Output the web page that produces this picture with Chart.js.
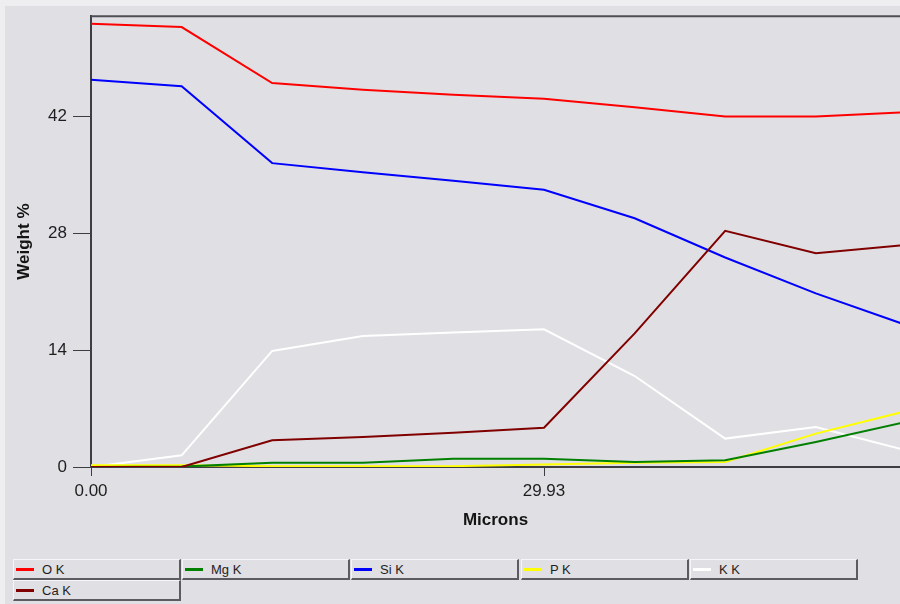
<!DOCTYPE html>
<html>
<head>
<meta charset="utf-8">
<title>Weight % profile</title>
<script src="https://cdn.jsdelivr.net/npm/chart.js@4/dist/chart.umd.min.js"></script>
<style>
  html, body { margin: 0; padding: 0; }
  body {
    width: 900px; height: 604px; position: relative; overflow: hidden;
    background: #e0dfe3;
    font-family: "Liberation Sans", Arial, sans-serif;
  }
  #frameTop { position: absolute; left: 0; top: 0; width: 900px; height: 6px; background: #eeeef0; }
  #frameLeft { position: absolute; left: 0; top: 0; width: 5px; height: 604px; background: #eeeef0; }
  #plot { position: absolute; left: 0; top: 0; }
  #legend { position: absolute; left: 0; top: 0; }
  .item {
    position: absolute; box-sizing: border-box; width: 168px; height: 21px;
    border-top: 1px solid #f6f6f8; border-left: 1px solid #f6f6f8;
    border-right: 2px solid #5c5c60; border-bottom: 2px solid #5c5c60;
    font-size: 13px; color: #1e1e1e;
  }
  .sw { position: absolute; left: 2px; top: 8px; width: 18px; height: 3px; }
  .lb { position: absolute; left: 28px; top: 2px; line-height: 15px; white-space: nowrap; }
</style>
</head>
<body>
<div id="frameTop"></div>
<div id="frameLeft"></div>
<canvas id="plot" width="900" height="545"></canvas>
<div id="legend"></div>
<script>
// Distance along the line scan (microns)
const microns = [0, 5.99, 11.97, 17.96, 23.94, 29.93, 35.92, 41.90, 47.89, 53.87];

// Weight % per element line
const oK  = [53.1, 52.7, 46.0, 45.2, 44.6, 44.1, 43.1, 42.0, 42.0, 42.5];
const mgK = [0.0, 0.05, 0.5, 0.5, 1.0, 1.0, 0.6, 0.8, 3.0, 5.4];
const siK = [46.4, 45.6, 36.4, 35.3, 34.3, 33.2, 29.8, 25.1, 20.8, 17.0];
const pK  = [0.2, 0.2, 0.1, 0.1, 0.1, 0.3, 0.5, 0.6, 4.0, 6.7];
const kK  = [0.0, 1.4, 13.9, 15.7, 16.1, 16.5, 10.9, 3.4, 4.8, 2.0];
const caK = [0.0, 0.0, 3.2, 3.6, 4.1, 4.7, 16.0, 28.3, 25.6, 26.6];

const seriesNames  = ['O K', 'Mg K', 'Si K', 'P K', 'K K', 'Ca K'];
const seriesValues = [oK, mgK, siK, pK, kK, caK];
const seriesColors = ['#ff0000', '#008000', '#0000ff', '#ffff00', '#ffffff', '#800000'];

// Axis tick labels
const yTicks = [0, 14, 28, 42];
const xTicks = [0, 29.93];

const axisColor = '#3e3e42';
const tickFont = { family: '"Liberation Sans", Arial, sans-serif', size: 17 };
const titleFont = { family: '"Liberation Sans", Arial, sans-serif', size: 17, weight: 'bold' };

// frame line along the top of the plotting area
const topFrame = {
  id: 'topFrame',
  afterDraw(chart) {
    const { ctx, chartArea } = chart;
    ctx.save();
    ctx.strokeStyle = '#4e4e54';
    ctx.lineWidth = 2;
    ctx.beginPath();
    ctx.moveTo(chartArea.left, chartArea.top);
    ctx.lineTo(chartArea.right, chartArea.top);
    ctx.stroke();
    ctx.restore();
  }
};

const datasets = seriesNames.map((name, i) => ({
  label: name,
  data: microns.map((x, j) => ({ x: x, y: seriesValues[i][j] })),
  borderColor: seriesColors[i],
  backgroundColor: seriesColors[i],
  borderWidth: 2,
  pointRadius: 0,
  tension: 0,
  fill: false,
  order: name === 'Ca K' ? 0 : 1
}));

const chart = new Chart(document.getElementById('plot'), {
  type: 'line',
  data: { datasets },
  plugins: [topFrame],
  options: {
    responsive: false,
    animation: false,
    events: [],
    layout: { padding: { top: 15, right: 0, left: 0, bottom: 0 } },
    plugins: { legend: { display: false }, tooltip: { enabled: false } },
    scales: {
      x: {
        type: 'linear',
        min: 0,
        max: 53.45,
        afterBuildTicks: s => { s.ticks = xTicks.map(v => ({ value: v })); },
        afterFit: s => { s.height = 78; },
        ticks: {
          color: '#1e1e1e', font: tickFont, padding: 5, maxRotation: 0,
          autoSkip: false,
          callback: v => Number(v).toFixed(2)
        },
        grid: { display: true, drawOnChartArea: false, drawTicks: true, tickLength: 9, color: axisColor, lineWidth: 1 },
        border: { display: true, color: axisColor, width: 2 },
        title: { display: true, text: 'Microns', color: '#141414', font: titleFont, padding: { top: 0, bottom: 14 } }
      },
      y: {
        min: 0,
        max: 54,
        afterBuildTicks: s => { s.ticks = yTicks.map(v => ({ value: v })); },
        afterFit: s => { s.width = 91; },
        ticks: { color: '#1e1e1e', font: tickFont, padding: 6, autoSkip: false, callback: v => String(v) },
        grid: { display: true, drawOnChartArea: false, drawTicks: true, tickLength: 18, color: axisColor, lineWidth: 1 },
        border: { display: true, color: axisColor, width: 2 },
        title: { display: true, text: 'Weight %', color: '#141414', font: titleFont, padding: { top: 14, bottom: 0 } }
      }
    }
  }
});

// Boxed legend below the plot, five entries per row
const legend = document.getElementById('legend');
chart.data.datasets.forEach((ds, i) => {
  const col = i % 5, row = Math.floor(i / 5);
  const item = document.createElement('div');
  item.className = 'item';
  item.style.left = Math.round(13 + col * 169.2) + 'px';
  item.style.top = (559 + row * 21) + 'px';
  const sw = document.createElement('div');
  sw.className = 'sw';
  sw.style.background = ds.borderColor;
  const lb = document.createElement('span');
  lb.className = 'lb';
  lb.textContent = ds.label;
  item.appendChild(sw);
  item.appendChild(lb);
  legend.appendChild(item);
});
</script>
</body>
</html>
